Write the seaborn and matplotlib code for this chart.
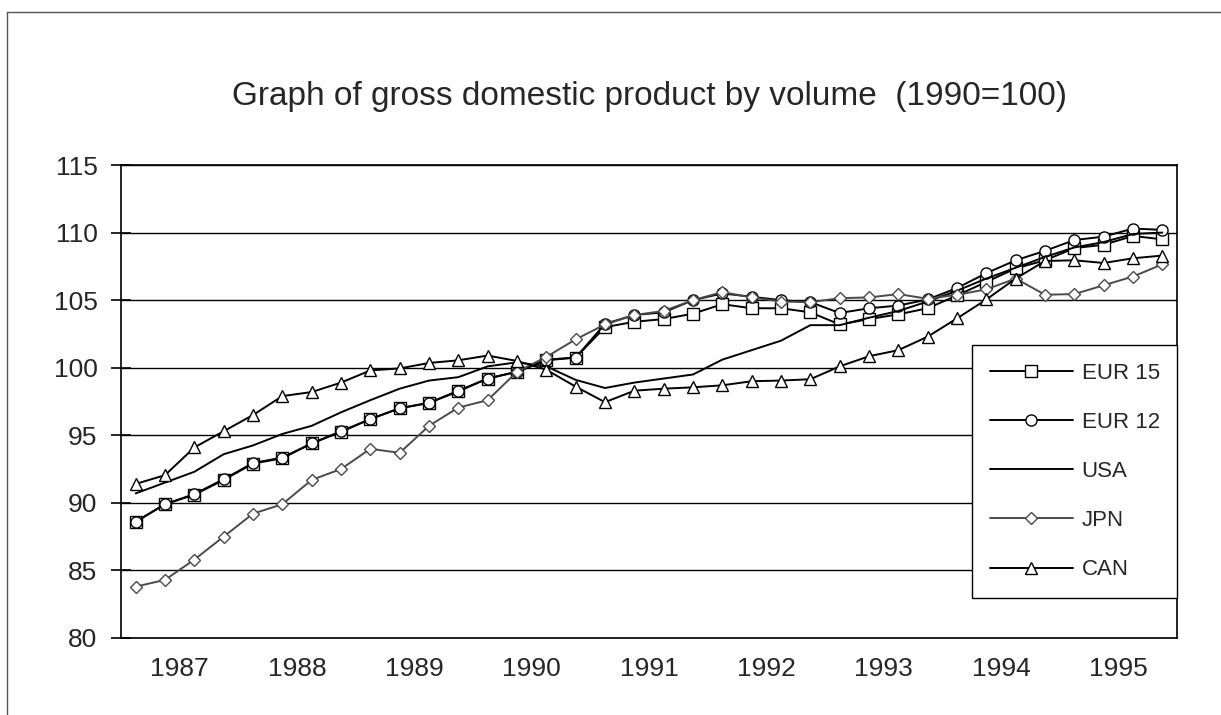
import matplotlib
matplotlib.use("Agg")
import matplotlib.pyplot as plt
import seaborn as sns
from matplotlib.lines import Line2D

# Quarterly GDP by volume, 1987 Q1 .. 1995 Q4 (1990 = 100)
years = ["1987", "1988", "1989", "1990", "1991", "1992", "1993", "1994", "1995"]
quarters = list(range(36))

eur15 = [88.6, 89.9, 90.6, 91.7, 92.9, 93.3, 94.4, 95.25, 96.2, 97.0, 97.4, 98.25,
         99.2, 99.7, 100.55, 100.75, 103.0, 103.4, 103.6, 104.0, 104.7, 104.4, 104.4, 104.1,
         103.2, 103.6, 103.95, 104.4, 105.35, 106.35, 107.35, 107.95, 108.85, 109.1, 109.75, 109.5]
eur12 = [88.6, 89.9, 90.65, 91.75, 92.95, 93.35, 94.4, 95.3, 96.2, 97.0, 97.4, 98.3,
         99.2, 99.7, 100.6, 100.75, 103.25, 103.9, 104.1, 105.0, 105.5, 105.25, 105.0, 104.85,
         104.05, 104.4, 104.6, 105.05, 105.9, 107.0, 107.95, 108.65, 109.45, 109.7, 110.3, 110.2]
usa = [90.7, 91.5, 92.3, 93.6, 94.25, 95.1, 95.7, 96.7, 97.6, 98.45, 99.05, 99.3,
       100.1, 100.4, 100.1, 99.1, 98.5, 98.9, 99.2, 99.5, 100.6, 101.3, 102.0, 103.15,
       103.15, 103.7, 104.2, 104.9, 105.7, 106.6, 107.4, 108.2, 108.9, 109.3, 109.9, 110.0]
jpn = [83.8, 84.3, 85.8, 87.5, 89.2, 89.9, 91.7, 92.5, 94.0, 93.7, 95.7, 97.05,
       97.6, 99.7, 100.8, 102.1, 103.2, 103.9, 104.2, 105.0, 105.6, 105.2, 104.9, 104.85,
       105.15, 105.2, 105.45, 105.1, 105.4, 105.8, 106.6, 105.4, 105.45, 106.1, 106.75, 107.65]
can = [91.4, 92.05, 94.1, 95.3, 96.5, 97.9, 98.2, 98.9, 99.8, 99.95, 100.35, 100.55,
       100.9, 100.5, 99.85, 98.6, 97.45, 98.3, 98.45, 98.55, 98.7, 99.0, 99.05, 99.15,
       100.1, 100.85, 101.3, 102.3, 103.65, 105.05, 106.6, 107.9, 107.95, 107.75, 108.1, 108.3]

series = [("EUR 15", eur15, "s", "black"),
          ("EUR 12", eur12, "o", "black"),
          ("USA", usa, "", "black"),
          ("JPN", jpn, "D", "#4a4a4a"),
          ("CAN", can, "^", "black")]

sns.set_style("white")
plt.rcParams["font.family"] = ["Liberation Sans", "DejaVu Sans"]

fig = plt.figure(figsize=(12.21, 7.15), dpi=100)
ax = fig.add_axes([0.0991, 0.1077, 0.8649, 0.6615])

for name, vals, mk, col in series:
    sns.lineplot(x=quarters, y=vals, ax=ax, color=col, linewidth=1.4,
                 marker=mk, markersize=8 if mk != "D" else 6.5,
                 markerfacecolor="white", markeredgecolor=col,
                 markeredgewidth=1.0, label=name)

ax.set_xlim(-0.5, 35.5)
ax.set_ylim(80, 115)
ax.set_yticks(range(80, 116, 5))
ax.set_xticks([1.5 + 4 * k for k in range(9)], labels=years)
ax.set_xticks([3.5 + 4 * k for k in range(8)], minor=True)
ax.tick_params(axis="x", which="major", length=0, labelsize=19, pad=14)
ax.tick_params(axis="x", which="minor", direction="inout", length=14, width=1.2, color="black")
ax.tick_params(axis="y", direction="inout", length=14, width=1.2, color="black",
               labelsize=19, pad=10, left=True)
ax.set_xlabel("")
ax.set_ylabel("")
ax.yaxis.grid(True, color="black", linewidth=1.0)
ax.xaxis.grid(False)
for sp in ax.spines.values():
    sp.set_color("black")
    sp.set_linewidth(1.2)

leg = ax.legend(loc="lower right", bbox_to_anchor=(1.0, 0.085), borderaxespad=0,
                fontsize=16, frameon=True, fancybox=False, edgecolor="black",
                framealpha=1, handlelength=3.75, handletextpad=0.38,
                labelspacing=1.27, borderpad=0.78)
leg.get_frame().set_linewidth(1.0)

fig.text(0.532, 1 - 96 / 715, "Graph of gross domestic product by volume  (1990=100)",
         ha="center", va="center", fontsize=24)

# outer frame of the chart area
fig.add_artist(Line2D([0.006, 1.0], [0.983, 0.983], transform=fig.transFigure,
                      color="#555555", linewidth=1.0))
fig.add_artist(Line2D([0.006, 0.006], [0.983, 0.0], transform=fig.transFigure,
                      color="#555555", linewidth=1.0))

fig.savefig("out.png", dpi=100)
